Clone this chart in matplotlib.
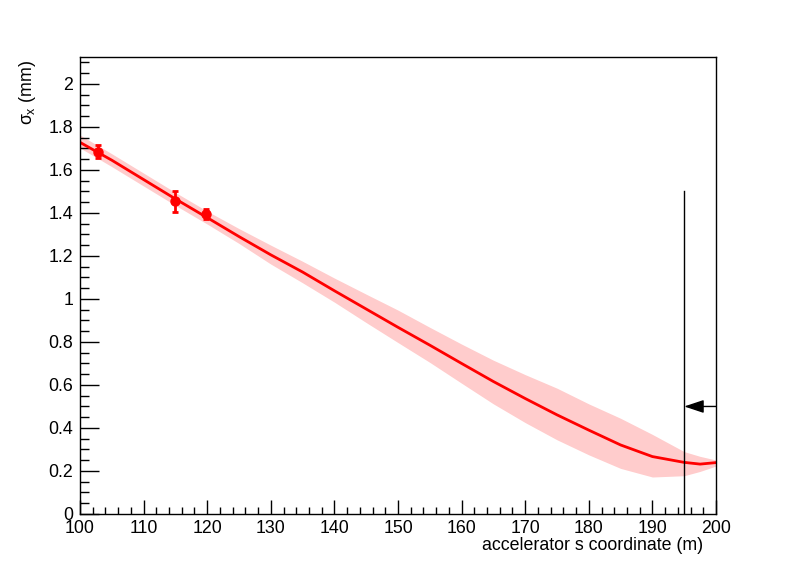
import matplotlib
matplotlib.use('Agg')

from matplotlib import pyplot as plt
from matplotlib.ticker import MultipleLocator, FormatStrFormatter
import numpy as np

# simulated beam size along the line, with its uncertainty band
s_pos = [100, 105, 110, 115, 120, 125, 130, 135, 140, 145, 150,
         155, 160, 165, 170, 175, 180, 185, 190, 195, 197.5, 200]
sigma_mid = [1.728, 1.645, 1.555, 1.465, 1.378, 1.290, 1.205, 1.125, 1.038, 0.953, 0.868,
             0.785, 0.700, 0.616, 0.537, 0.461, 0.390, 0.321, 0.267, 0.240, 0.232, 0.239]
sigma_hi = [1.762, 1.675, 1.585, 1.495, 1.408, 1.327, 1.250, 1.175, 1.097, 1.022, 0.948,
            0.868, 0.790, 0.715, 0.648, 0.585, 0.512, 0.445, 0.370, 0.290, 0.268, 0.251]
sigma_lo = [1.702, 1.615, 1.525, 1.435, 1.348, 1.258, 1.162, 1.075, 0.985, 0.890, 0.797,
            0.705, 0.608, 0.512, 0.425, 0.345, 0.275, 0.212, 0.172, 0.178, 0.198, 0.223]

# measured points
meas_s = [102.9, 114.9, 119.8]
meas_sigma = [1.685, 1.453, 1.394]
meas_err = [0.031, 0.051, 0.023]

# marker at the end of the line
cut_s = 195
cut_top = 1.5
arrow_y = 0.5
arrow_from = 200

plt.rcParams['font.family'] = ['Liberation Sans', 'DejaVu Sans']
plt.rcParams['mathtext.fontset'] = 'custom'
plt.rcParams['mathtext.rm'] = 'Liberation Sans'
plt.rcParams['mathtext.it'] = 'Liberation Sans'

def main():
    fig = plt.figure(figsize=(7.96, 5.72), dpi=100)
    ax = fig.add_axes([0.1005, 0.1014, 0.799, 0.799])

    ax.fill_between(s_pos, sigma_lo, sigma_hi, color='#ffcccc', linewidth=0)
    ax.plot(s_pos, sigma_mid, color='red', linewidth=2)
    ax.errorbar(meas_s, meas_sigma, yerr=meas_err, fmt='o', color='red',
                markersize=6.5, elinewidth=2, capsize=2.5, capthick=2)

    ax.plot([cut_s, cut_s], [0, cut_top], color='black', linewidth=1)
    ax.annotate('', xy=(cut_s, arrow_y), xytext=(arrow_from, arrow_y),
                arrowprops=dict(arrowstyle='-|>,head_length=1.2,head_width=0.4',
                                mutation_scale=10, color='black', linewidth=1,
                                shrinkA=0, shrinkB=0))

    ax.set_xlim(100, 200)
    ax.set_ylim(0, 2.125)

    ax.xaxis.set_major_locator(MultipleLocator(10))
    ax.xaxis.set_minor_locator(MultipleLocator(2))
    ax.yaxis.set_major_locator(MultipleLocator(0.2))
    ax.yaxis.set_minor_locator(MultipleLocator(0.05))
    ax.yaxis.set_major_formatter(FormatStrFormatter('%g'))
    ax.xaxis.set_major_formatter(FormatStrFormatter('%g'))

    ax.tick_params(axis='both', which='both', direction='in', top=False, right=False,
                   labelsize=12.8, width=1, color='black')
    ax.tick_params(axis='y', which='major', length=13.7, pad=5)
    ax.tick_params(axis='y', which='minor', length=6.8)
    ax.tick_params(axis='x', which='major', length=9.9, pad=4)
    ax.tick_params(axis='x', which='minor', length=5)
    for sp in ax.spines.values():
        sp.set_linewidth(1)

    fig.text(703 / 796, 1 - 545 / 572, 'accelerator s coordinate (m)',
             ha='right', va='center', fontsize=12.8)
    fig.text(27 / 796, 1 - 60 / 572, r'$\sigma_{x}$ (mm)', rotation=90,
             ha='center', va='top', fontsize=12.8)

    plt.savefig('out.png', dpi=100)
    plt.close()

main()
